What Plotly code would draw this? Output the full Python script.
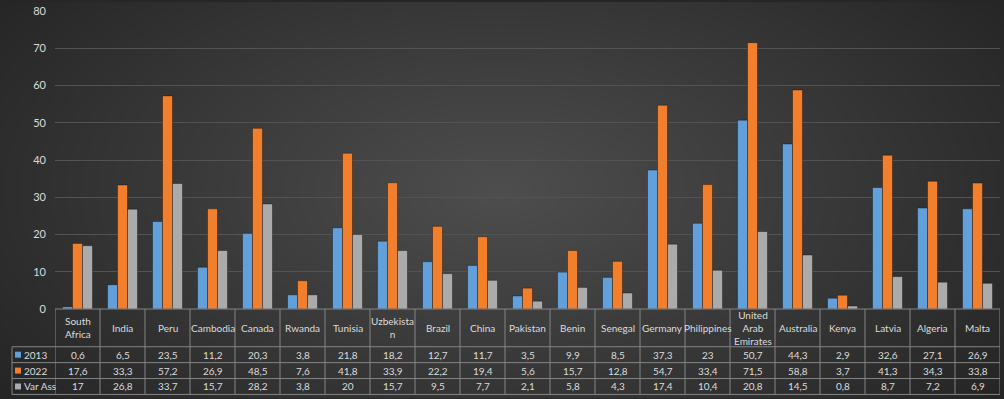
import base64, struct, zlib
import numpy as np
import plotly.graph_objects as go

countries = ["South Africa", "India", "Peru", "Cambodia", "Canada", "Rwanda", "Tunisia",
             "Uzbekistan", "Brazil", "China", "Pakistan", "Benin", "Senegal", "Germany",
             "Philippines", "United Arab Emirates", "Australia", "Kenya", "Latvia",
             "Algeria", "Malta"]
header_labels = ["South<br>Africa", "India", "Peru", "Cambodia", "Canada", "Rwanda", "Tunisia",
                 "Uzbekista<br>n", "Brazil", "China", "Pakistan", "Benin", "Senegal", "Germany",
                 "Philippines", "United<br>Arab<br>Emirates", "Australia", "Kenya", "Latvia",
                 "Algeria", "Malta"]
v2013 = [0.6, 6.5, 23.5, 11.2, 20.3, 3.8, 21.8, 18.2, 12.7, 11.7, 3.5, 9.9, 8.5, 37.3,
         23, 50.7, 44.3, 2.9, 32.6, 27.1, 26.9]
v2022 = [17.6, 33.3, 57.2, 26.9, 48.5, 7.6, 41.8, 33.9, 22.2, 19.4, 5.6, 15.7, 12.8, 54.7,
         33.4, 71.5, 58.8, 3.7, 41.3, 34.3, 33.8]
vvar = [17, 26.8, 33.7, 15.7, 28.2, 3.8, 20, 15.7, 9.5, 7.7, 2.1, 5.8, 4.3, 17.4,
        10.4, 20.8, 14.5, 0.8, 8.7, 7.2, 6.9]
series_names = ["2013", "2022", "Var Ass"]
series_values = [v2013, v2022, vvar]
series_colors = ["#62a0dc", "#f27f2c", "#ababab"]

W, H = 1004, 399
ML, MR, MT, MB = 55, 4, 9, 90
PW, PH = W - ML - MR, H - MT - MB

def make_png(arr):
    h, w = arr.shape
    raw = b"".join(b"\x00" + arr[i].tobytes() for i in range(h))
    def chunk(t, d):
        c = struct.pack(">I", len(d)) + t + d
        return c + struct.pack(">I", zlib.crc32(t + d) & 0xffffffff)
    png = b"\x89PNG\r\n\x1a\n"
    png += chunk(b"IHDR", struct.pack(">IIBBBBB", w, h, 8, 0, 0, 0, 0))
    png += chunk(b"IDAT", zlib.compress(raw, 9))
    png += chunk(b"IEND", b"")
    return "data:image/png;base64," + base64.b64encode(png).decode()

yy, xx = np.mgrid[0:H, 0:W]
r = np.sqrt(((xx - 500) / 620.0) ** 2 + ((yy - 190) / 330.0) ** 2)
r = np.clip(r, 0, 1.2)
g = 78 - (78 - 36) * (r / 1.05)
g = np.clip(g, 30, 80).astype(np.uint8)
bg_src = make_png(g)

fig = go.Figure()
for name, vals, col in zip(series_names, series_values, series_colors):
    fig.add_trace(go.Bar(x=countries, y=vals, name=name,
                         marker=dict(color=col, line=dict(color="rgba(0,0,0,0.35)", width=1))))

def px_to_py(ypix):
    return (H - MB - ypix) / PH

def px_to_px(xpix):
    return (xpix - ML) / PW

line_col = "#858585"
txt_col = "#dcdcdc"
font_fam = "Lato, Open Sans, sans-serif"
tsize = 10

shapes = []
ann = []
y_head_top, y_row1, y_row2, y_row3, y_bot = 309, 347, 363, 379, 395
n = len(countries)
for i in range(n + 1):
    shapes.append(dict(type="line", xref="x", yref="paper", x0=i - 0.5, x1=i - 0.5,
                       y0=px_to_py(y_head_top), y1=px_to_py(y_bot),
                       line=dict(color=line_col, width=1)))
for yp, x0 in [(y_head_top, px_to_px(ML)), (y_row1, px_to_px(12)), (y_row2, px_to_px(12)),
               (y_row3, px_to_px(12)), (y_bot, px_to_px(12))]:
    shapes.append(dict(type="line", xref="paper", yref="paper", x0=x0, x1=1,
                       y0=px_to_py(yp), y1=px_to_py(yp), line=dict(color=line_col, width=1)))
shapes.append(dict(type="line", xref="paper", yref="paper", x0=px_to_px(12), x1=px_to_px(12),
                   y0=px_to_py(y_row1), y1=px_to_py(y_bot), line=dict(color=line_col, width=1)))

for i, lab in enumerate(header_labels):
    ann.append(dict(x=countries[i], xref="x", y=px_to_py((y_head_top + y_row1) / 2), yref="paper",
                    text=lab, showarrow=False, font=dict(color=txt_col, size=tsize, family=font_fam),
                    xanchor="center", yanchor="middle"))

def fmt(v):
    return str(int(v)) if float(v).is_integer() else str(v).replace(".", ",")

row_bounds = [(y_row1, y_row2), (y_row2, y_row3), (y_row3, y_bot)]
for (ya, yb), name, vals, col in zip(row_bounds, series_names, series_values, series_colors):
    yc = (ya + yb) / 2
    for i, v in enumerate(vals):
        ann.append(dict(x=countries[i], xref="x", y=px_to_py(yc), yref="paper", text=fmt(v),
                        showarrow=False, font=dict(color=txt_col, size=tsize, family=font_fam),
                        xanchor="center", yanchor="middle"))
    shapes.append(dict(type="rect", xref="paper", yref="paper", x0=px_to_px(15), x1=px_to_px(21),
                       y0=px_to_py(yc + 3), y1=px_to_py(yc - 3), fillcolor=col, line=dict(width=0)))
    ann.append(dict(x=px_to_px(22), xref="paper", y=px_to_py(yc), yref="paper", text=name,
                    showarrow=False, font=dict(color=txt_col, size=tsize, family=font_fam),
                    xanchor="left", yanchor="middle"))

fig.update_layout(
    width=W, height=H,
    margin=dict(l=ML, r=MR, t=MT, b=MB),
    paper_bgcolor="rgba(0,0,0,0)", plot_bgcolor="rgba(0,0,0,0)",
    barmode="group", bargap=0.333, bargroupgap=0,
    showlegend=False,
    font=dict(family=font_fam, color=txt_col, size=tsize),
    images=[dict(source=bg_src, xref="paper", yref="paper", x=-ML / PW, y=1 + MT / PH,
                 sizex=W / PW, sizey=H / PH, sizing="stretch", layer="below",
                 xanchor="left", yanchor="top")],
    shapes=shapes, annotations=ann,
    xaxis=dict(showticklabels=False, showgrid=False, zeroline=False, showline=False,
               range=[-0.5, n - 0.5], fixedrange=True),
    yaxis=dict(range=[0, 80], dtick=10, showgrid=True, gridcolor="#535353", gridwidth=1,
               zeroline=False, showline=False, ticks="", ticklabelstandoff=8,
               tickfont=dict(color=txt_col, size=11, family=font_fam)),
)
fig.write_html("out.html", config={"displayModeBar": False},
               post_script="document.body.style.margin='0';document.body.style.background='#262626';")
